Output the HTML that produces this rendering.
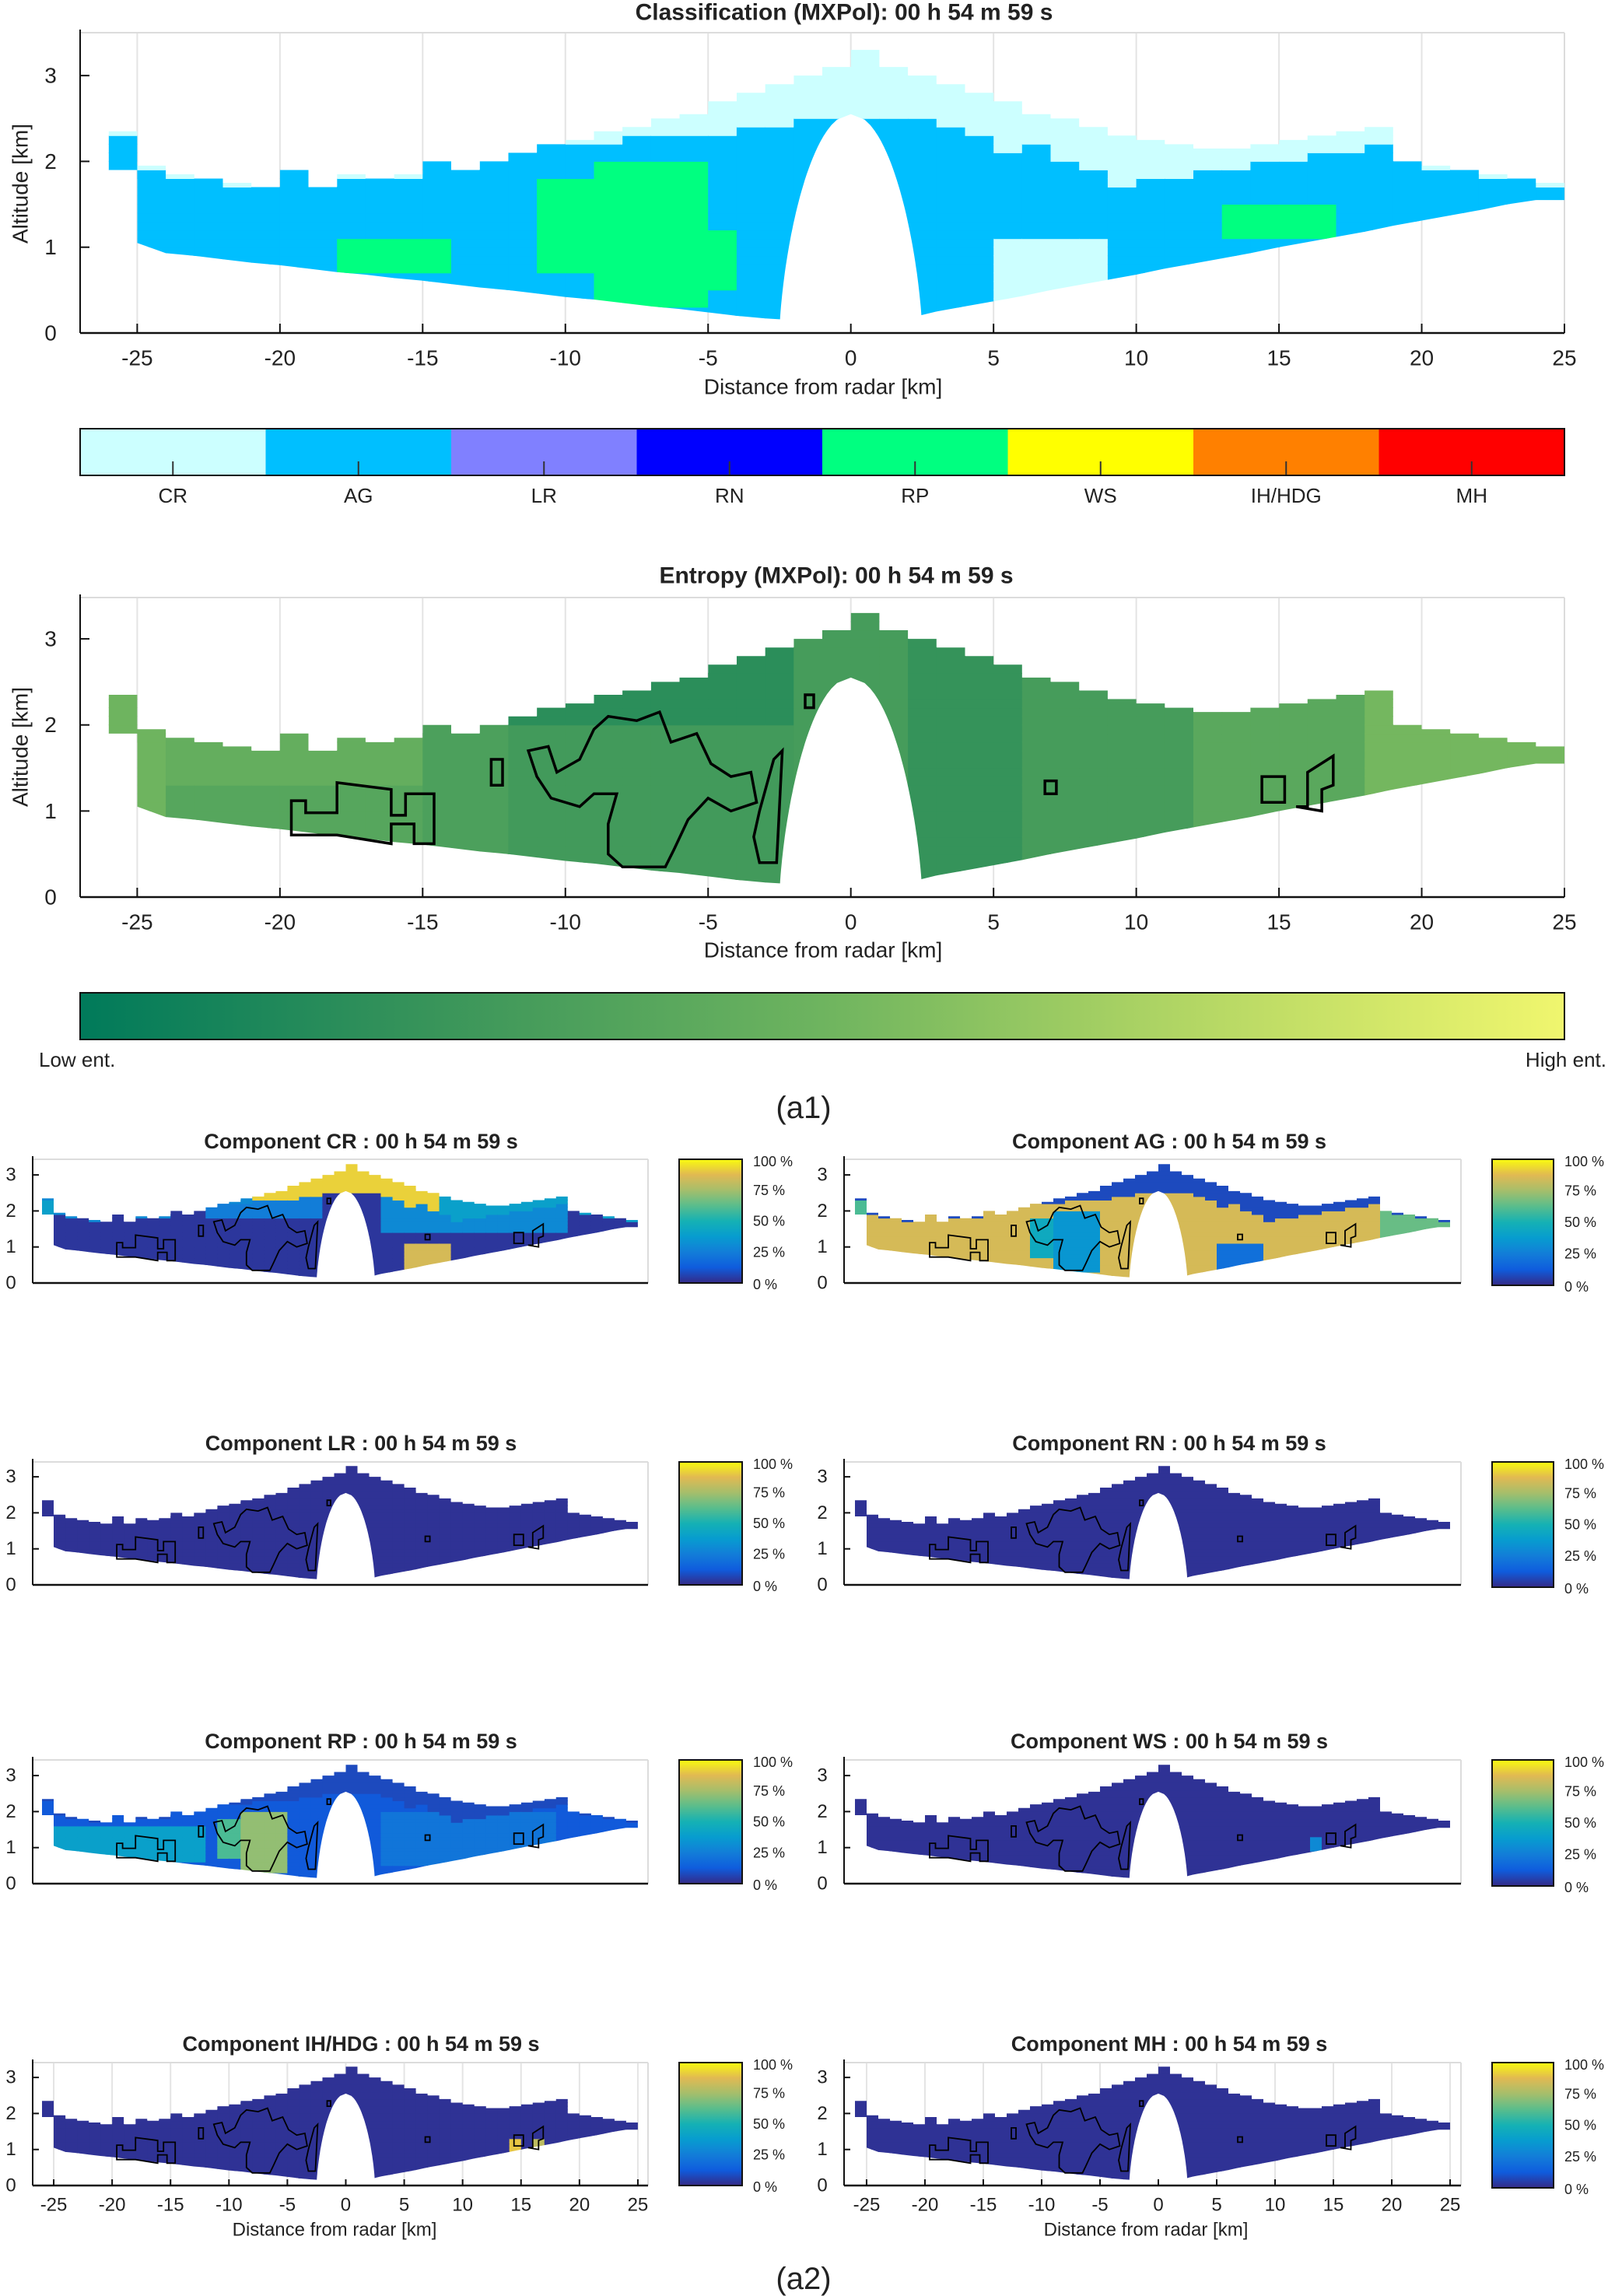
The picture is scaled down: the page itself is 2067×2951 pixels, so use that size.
<!DOCTYPE html>
<html><head><meta charset="utf-8">
<style>
html,body{margin:0;padding:0;background:#fff;}
svg{display:block;}
text{font-family:"Liberation Sans",sans-serif;fill:#222;}
</style></head>
<body>
<svg id="fig" width="2067" height="2951" viewBox="0 0 2067 2951" xmlns="http://www.w3.org/2000/svg"></svg>
<script>
// ---------------- DATA ----------------
const colX   = [-26,-25,-24,-23,-22,-21,-20,-19,-18,-17,-16,-15,-14,-13,-12,-11,-10,-9,-8,-7,-6,-5,-4,-3,-2,-1,0,1,2,3,4,5,6,7,8,9,10,11,12,13,14,15,16,17,18,19,20,21,22,23,24];
const colBot = [1.9,1.05,0.93,0.90,0.86,0.82,0.79,0.75,0.71,0.68,0.64,0.61,0.57,0.53,0.50,0.46,0.42,0.39,0.35,0.31,0.28,0.24,0.20,0.17,0.15,0.15,0.15,0.15,0.17,0.25,0.31,0.37,0.43,0.50,0.56,0.62,0.68,0.75,0.81,0.87,0.93,1.00,1.06,1.12,1.18,1.25,1.31,1.37,1.43,1.50,1.55];
const colTop = [2.35,1.95,1.85,1.8,1.75,1.7,1.9,1.7,1.85,1.8,1.85,2.0,1.9,2.0,2.1,2.2,2.25,2.35,2.4,2.5,2.55,2.7,2.8,2.9,3.0,3.1,3.3,3.1,3.0,2.9,2.8,2.7,2.55,2.5,2.4,2.3,2.25,2.2,2.15,2.15,2.2,2.25,2.3,2.35,2.4,2.0,1.95,1.9,1.85,1.8,1.75];
const agTop  = [2.35,1.95,1.85,1.8,1.75,1.7,1.9,1.7,1.85,1.8,1.85,2.0,1.9,2.0,2.1,2.2,2.2,2.25,2.3,2.3,2.3,2.35,2.4,2.45,2.5,2.5,2.5,2.5,2.5,2.4,2.3,2.1,2.2,2.0,1.9,1.7,1.8,1.85,1.9,1.95,2.0,2.05,2.1,2.15,2.25,2.0,1.95,1.9,1.85,1.8,1.75];
const classNames  = ["CR","AG","LR","RN","RP","WS","IH/HDG","MH"];
const classColors = ["#ccffff","#00bfff","#8080ff","#0000ff","#00ff80","#ffff00","#ff8000","#ff0000"];
const classPatches = [[5.5,9.5,0.3,1.1,0],[-9,-5,0.3,2.0,4],[-11,-9,0.7,1.8,4],[-18,-14,0.75,1.1,4],[13.5,17,1.1,1.55,4],[-5,-4,0.5,1.2,4]];
const entPatches = [[-27,-24,0,3.5,0.5],[-24,-15,0,3.5,0.38],[-24,-15,1.3,3.5,0.45],[-15,-12,0,3.5,0.33],[-12,-2,0,3.5,0.28],[-12,-2,2.0,3.5,0.18],[2,6,0,3.5,0.22],[6,12,0,3.5,0.3],[12,18.5,0,3.5,0.4],[18.5,25,0,3.5,0.52]];
const xTicks = [-25,-20,-15,-10,-5,0,5,10,15,20,25];
const yTicks = [0,1,2,3];
const pctTicks = [0,25,50,75,100];
const contours = [
 [[-19.6,0.72],[-19.6,1.12],[-19.1,1.12],[-19.1,0.98],[-18.0,0.98],[-18.0,1.33],[-16.1,1.25],[-16.1,0.95],[-15.6,0.95],[-15.6,1.2],[-14.6,1.2],[-14.6,0.62],[-15.3,0.62],[-15.3,0.85],[-16.1,0.85],[-16.1,0.62],[-18.0,0.72]],
 [[-11.3,1.7],[-10.6,1.75],[-10.3,1.45],[-9.5,1.6],[-9.0,1.95],[-8.5,2.1],[-7.5,2.05],[-6.7,2.15],[-6.3,1.8],[-5.4,1.9],[-4.9,1.55],[-4.2,1.4],[-3.5,1.45],[-3.3,1.1],[-4.2,1.0],[-5.0,1.15],[-5.7,0.9],[-6.2,0.55],[-6.5,0.35],[-8.0,0.35],[-8.5,0.5],[-8.5,0.85],[-8.2,1.2],[-9.0,1.2],[-9.5,1.05],[-10.5,1.15],[-11.0,1.4]],
 [[-3.2,0.4],[-2.6,0.4],[-2.4,1.7],[-2.7,1.6],[-3.2,1.0],[-3.4,0.7]],
 [[15.6,1.05],[16.0,1.05],[16.0,1.45],[16.9,1.64],[16.9,1.3],[16.5,1.25],[16.5,1.0]],
 [[14.4,1.1],[15.2,1.1],[15.2,1.4],[14.4,1.4]],
 [[6.8,1.2],[7.2,1.2],[7.2,1.35],[6.8,1.35]],
 [[-12.6,1.3],[-12.2,1.3],[-12.2,1.6],[-12.6,1.6]],
 [[-1.6,2.2],[-1.3,2.2],[-1.3,2.35],[-1.6,2.35]]
];
const compNames   = ["CR","AG","LR","RN","RP","WS","IH/HDG","MH"];
const compBase    = [0.03,0.85,0.02,0.02,0.12,0.02,0.02,0.02];
const compTopVal  = [0.92,0.08,0.02,0.02,0.08,0.02,0.02,0.02];
const compTopPatches = [[[-27,-8,0,4,0.3],[8,27,0,4,0.4]],[],[],[],[],[],[],[]];
const compPatches = [
 [[-26,-25,0,3,0.4],[3,19,1.4,2.4,0.3],[-12,-2,1.8,2.6,0.25],[5.5,9.5,0.3,1.1,0.85]],
 [[-26,-25,0,3,0.6],[-11,-9,0.7,1.8,0.45],[-9,-5,0.3,2.0,0.35],[5.5,9.5,0.3,1.1,0.2],[19,25,0,3,0.65]],
 [],[],
 [[-25,-12,0.6,1.6,0.4],[-11,-9,0.7,1.8,0.6],[-9,-5,0.3,2.0,0.72],[3,18,0.5,2.0,0.22]],
 [[13,14,0.9,1.3,0.3]],
 [[14,15,0.9,1.3,0.9],[16,17,0.9,1.3,0.8]],
 []
];
// ---------------- HELPERS ----------------
const NS="http://www.w3.org/2000/svg";
const svg=document.getElementById('fig');
function mk(tag,attrs,parent){const e=document.createElementNS(NS,tag);for(const k in attrs)e.setAttribute(k,attrs[k]);(parent||svg).appendChild(e);return e;}
function txt(s,x,y,size,opts,parent){opts=opts||{};const t=mk('text',{x:x,y:y,'font-size':size,'text-anchor':opts.anchor||'middle','dominant-baseline':'central','font-weight':opts.bold?'bold':'normal'},parent);if(opts.family)t.setAttribute('font-family',opts.family);if(opts.rot)t.setAttribute('transform','rotate(-90 '+x+' '+y+')');t.textContent=s;return t;}
const parulaStops=[[53,42,135],[15,92,221],[18,125,216],[7,156,207],[21,177,180],[89,189,140],[165,190,107],[225,185,82],[249,251,14]];
function parula(v){v=Math.max(0,Math.min(1,v));const p=v*8,i=Math.min(7,Math.floor(p)),f=p-i;const a=parulaStops[i],b=parulaStops[i+1];return 'rgb('+a.map((c,k)=>Math.round(c+(b[k]-c)*f)).join(',')+')';}
const entStops=[[0,122,90],[60,150,90],[110,180,95],[180,215,100],[240,246,110]];
function entC(v){v=Math.max(0,Math.min(1,v));const p=v*4,i=Math.min(3,Math.floor(p)),f=p-i;const a=entStops[i],b=entStops[i+1];return 'rgb('+a.map((c,k)=>Math.round(c+(b[k]-c)*f)).join(',')+')';}
function patchVal(patches,x,y,base){let v=base;for(const p of patches){if(x>=p[0]&&x<p[1]&&y>=p[2]&&y<p[3])v=p[4];}return v;}
let clipId=0;
function panel(P,name){
  const g=mk('g',{});
  
  
  P.g=g;
  P.xs=x=>P.L+(x-P.x0)/(P.x1-P.x0)*(P.R-P.L);
  P.ys=y=>P.B-(y-P.y0)/(P.y1-P.y0)*(P.B-P.T);
  return P;
}
function drawAxes(P,opts){
  const g=P.g;
  if(opts.grid){for(const t of xTicks){const l=mk('line',{x1:P.xs(t),x2:P.xs(t),y1:P.T,y2:P.B,stroke:'#e4e4e4','stroke-width':2},g);}}
  mk('line',{x1:P.L,x2:P.R,y1:P.T,y2:P.T,stroke:'#dcdcdc','stroke-width':2},g);
  mk('line',{x1:P.R,x2:P.R,y1:P.T,y2:P.B,stroke:'#dcdcdc','stroke-width':2},g);
}
function drawEcho(P,colorFn){
  const id='clip'+(clipId++);
  const cp=mk('clipPath',{id:id},P.g);
  let pts=[];
  for(let i=0;i<colX.length;i++){pts.push([colX[i],colTop[i]]);pts.push([colX[i]+1,colTop[i]]);}
  let bp=[];
  for(let i=0;i<colX.length;i++){
    bp.push([colX[i],colBot[i]]);
    let nb=(i+1<colX.length)?colBot[i+1]:colBot[i];
    if(Math.abs(nb-colBot[i])>0.3)nb=colBot[i];
    bp.push([colX[i]+1,nb]);
  }
  bp.reverse();
  const all=pts.concat(bp).map(p=>P.xs(p[0]).toFixed(1)+','+P.ys(p[1]).toFixed(1)).join(' ');
  mk('polygon',{points:all},cp);
  const eg=mk('g',{'clip-path':'url(#'+id+')'},P.g);
  
  
  const dy=0.1;
  for(let i=0;i<colX.length;i++){
    const x0=P.xs(colX[i]),x1=P.xs(colX[i]+1);
    for(let y=Math.floor((colBot[i]-0.1)*10)/10;y<colTop[i];y+=dy){
      const c=colorFn(colX[i]+0.5,y+dy/2,i);
      mk('rect',{x:x0.toFixed(1),y:(P.ys(y+dy)-0.5).toFixed(1),width:(x1-x0+0.6).toFixed(1),height:(P.ys(y)-P.ys(y+dy)+1).toFixed(1),fill:c},eg);
    }
  }
  let d='M'+P.xs(-2.5)+','+P.ys(0);
  for(let k=0;k<=40;k++){const y=2.55*k/40;const hw=2.5*Math.sqrt(Math.max(0,1-Math.pow(y/2.55,1.5)));d+=' L'+P.xs(-hw).toFixed(1)+','+P.ys(y).toFixed(1);}
  for(let k=40;k>=0;k--){const y=2.55*k/40;const hw=2.5*Math.sqrt(Math.max(0,1-Math.pow(y/2.55,1.5)));d+=' L'+P.xs(hw).toFixed(1)+','+P.ys(y).toFixed(1);}
  d+=' Z';
  const dm=mk('path',{d:d,fill:'#fff'},P.g);
  
  
}
function drawContours(P,w){
  for(const c of contours){
    const pl=mk('polygon',{points:c.map(p=>P.xs(p[0]).toFixed(1)+','+P.ys(p[1]).toFixed(1)).join(' '),fill:'none',stroke:'#000','stroke-width':w},P.g);
    
    
  }
}
function drawAxisLines(P,opts){
  const g=P.g;
  mk('line',{x1:P.L,x2:P.L,y1:P.T-4,y2:P.B,stroke:'#111','stroke-width':2},g);
  mk('line',{x1:P.L,x2:P.R,y1:P.B,y2:P.B,stroke:'#111','stroke-width':2.5},g);
  for(const t of yTicks){
    mk('line',{x1:P.L,x2:P.L+opts.tick,y1:P.ys(t),y2:P.ys(t),stroke:'#111','stroke-width':2},g);
    const tl=txt(String(t),P.L-opts.ylabOff,P.ys(t),opts.fs,{},g);
    
    
  }
  if(opts.xlabels){
    for(const t of xTicks){
      mk('line',{x1:P.xs(t),x2:P.xs(t),y1:P.B,y2:P.B-opts.tick,stroke:'#111','stroke-width':2},g);
      const tl=txt(String(t),P.xs(t),P.B+opts.xlabOff,opts.fs,{},g);
      
      
    }
  }
}
// ---------------- CLASSIFICATION ----------------
const P1=panel({L:103,R:2011,T:42,B:428,x0:-27,x1:25,y0:0,y1:3.5},'classification-plot');
txt('Classification (MXPol): 00 h 54 m 59 s',1085,16,30,{bold:true});
drawAxes(P1,{grid:true});
drawEcho(P1,(x,y,i)=>{if(y>=agTop[i])return classColors[0];return classColors[patchVal(classPatches,x,y,1)];});
drawAxisLines(P1,{tick:12,fs:28,ylabOff:38,xlabels:true,xlabOff:32});
let t=txt('Altitude [km]',26,236,28,{rot:true});


t=txt('Distance from radar [km]',1058,497,28);


(function(){
  const L=103,R=2011,T=551,B=611,w=(R-L)/classNames.length;
  for(let k=0;k<classNames.length;k++){
    const r=mk('rect',{x:L+k*w,y:T,width:w+0.5,height:B-T,fill:classColors[k]});
    
    
    mk('line',{x1:L+(k+0.5)*w,x2:L+(k+0.5)*w,y1:B-18,y2:B,stroke:'#333','stroke-width':2});
    const lt=txt(classNames[k],L+(k+0.5)*w,637,26);
    
    
  }
  mk('rect',{x:L,y:T,width:R-L,height:B-T,fill:'none',stroke:'#111','stroke-width':2});
})();
// ---------------- ENTROPY ----------------
const P2=panel({L:103,R:2011,T:768,B:1153,x0:-27,x1:25,y0:0,y1:3.48},'entropy-plot');
txt('Entropy (MXPol): 00 h 54 m 59 s',1075,740,30,{bold:true});
drawAxes(P2,{grid:true});
drawEcho(P2,(x,y,i)=>entC(patchVal(entPatches,x,y,0.3)));
drawContours(P2,3.5);
drawAxisLines(P2,{tick:12,fs:28,ylabOff:38,xlabels:true,xlabOff:32});
t=txt('Altitude [km]',26,960,28,{rot:true});


t=txt('Distance from radar [km]',1058,1221,28);


(function(){
  const defs=mk('defs',{});
  const lg=mk('linearGradient',{id:'entGrad',x1:0,x2:1,y1:0,y2:0},defs);
  for(let k=0;k<=10;k++)mk('stop',{offset:k/10,'stop-color':entC(k/10)},lg);
  const pg=mk('linearGradient',{id:'parGrad',x1:0,x2:0,y1:1,y2:0},defs);
  for(let k=0;k<=16;k++)mk('stop',{offset:k/16,'stop-color':parula(k/16)},pg);
  const r=mk('rect',{x:103,y:1276,width:1908,height:60,fill:'url(#entGrad)',stroke:'#111','stroke-width':2});
  
  
})();
t=txt('Low ent.',50,1362,26,{anchor:'start'});


t=txt('High ent.',2065,1362,26,{anchor:'end'});


t=txt('(a1)',1033,1424,40,{family:'"Liberation Serif",serif'});


// ---------------- COMPONENTS ----------------
const rowsT=[1490,1879,2262,2651], rowsB=[1649,2037,2421,2809], titleY=[1467,1855,2238,2627];
for(let k=0;k<8;k++){
  const row=Math.floor(k/2), col=k%2;
  const L=col?1085:42, R=col?1878:833, x0=col?-26.93:-26.8, x1=col?25.93:25.87;
  const T=rowsT[row], B=rowsB[row];
  const P=panel({L:L,R:R,T:T,B:B,x0:x0,x1:x1,y0:0,y1:(B-T)/46.3},'component-'+compNames[k].toLowerCase().replace('/','-')+'-plot');
  const tt=txt('Component '+compNames[k]+' : 00 h 54 m 59 s',col?1503:464,titleY[row],27,{bold:true});
  
  
  drawAxes(P,{grid:row===3});
  const pat=compPatches[k],base=compBase[k],topv=compTopVal[k],tpat=compTopPatches[k];
  drawEcho(P,(x,y,i)=>{if(y>=agTop[i])return parula(patchVal(tpat,x,y,topv));return parula(patchVal(pat,x,y,base));});
  drawContours(P,1.8);
  drawAxisLines(P,{tick:8,fs:24,ylabOff:28,xlabels:row===3,xlabOff:25});
  if(row===3){
    const xl=txt('Distance from radar [km]',col?1473:430,2866,24);
    
    
  }
  const cL=col?1918:873, cR=col?1997:954, cT=T, cB=B+(col?3:0);
  const cb=mk('rect',{x:cL,y:cT,width:cR-cL,height:cB-cT,fill:'url(#parGrad)',stroke:'#111','stroke-width':2});
  
  
  for(const p of pctTicks){
    const yy=cB-(p/100)*(cB-cT)+(p===0?2:(p===100?3:0));
    const pl=txt(p+' %',cR+14,yy,18,{anchor:'start'});
    
    
  }
}
t=txt('(a2)',1033,2929,40,{family:'"Liberation Serif",serif'});


</script>
</body></html>
